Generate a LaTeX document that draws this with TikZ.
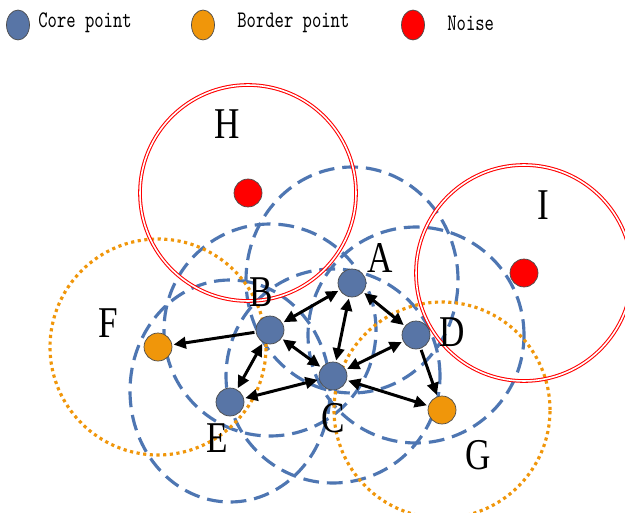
\documentclass[tikz,border=0pt]{standalone}
\usepackage{fontspec}
\newfontfamily\lblfont[FakeStretch=0.8]{Liberation Serif}
\newfontfamily\keyfont{lmmono10-regular.otf}[FakeStretch=0.75]
\usetikzlibrary{arrows.meta,shapes.geometric,backgrounds}
\definecolor{coreblue}{HTML}{5875A6}
\definecolor{epsblue}{HTML}{4E76B2}
\definecolor{bordorange}{HTML}{F0960A}
\definecolor{noisered}{HTML}{FF0000}

\begin{document}
\begin{tikzpicture}[x=0.02cm,y=0.02cm,
  core/.style={circle,draw=black!70,thin,fill=coreblue,minimum size=0.56cm,inner sep=0pt,outer sep=1pt},
  border/.style={core,fill=bordorange},
  noise/.style={core,fill=noisered},
  key/.style={ellipse,draw=black!70,thin,minimum width=0.46cm,minimum height=0.6cm,inner sep=0pt},
  keytxt/.style={anchor=west,inner sep=0pt,font=\fontsize{13.5}{15}\keyfont},
  lbl/.style={inner sep=0pt,font=\fontsize{25}{26}\lblfont},
  epscore/.style={draw=epsblue,line width=1.8pt,dash pattern=on 9pt off 4.5pt},
  epsborder/.style={draw=bordorange,line width=1.8pt,dash pattern=on 1.8pt off 2pt},
  epsnoise/.style={draw=noisered,line width=0.6pt,double=white,double distance=0.9pt},
  mutual/.style={{Triangle[length=7pt,width=6.5pt]}-{Triangle[length=7pt,width=6.5pt]},line width=1.7pt},
  oneway/.style={-{Triangle[length=7pt,width=6.5pt]},line width=1.7pt},
]
\useasboundingbox (0,0) rectangle (625,-513);

% legend
\node[key,fill=coreblue] (kcore) at (18,-25) {};
\node[keytxt] (tcore) at (38,-23) {Core point};
\node[key,fill=bordorange] (kbord) at (203,-25) {};
\node[keytxt] (tbord) at (237,-23) {Border point};
\node[key,fill=noisered] (knoise) at (413,-25) {};
\node[keytxt] (tnoise) at (447,-23) {Noise};

% points
\node[core] (A) at (352,-283) {};
\node[core] (B) at (270,-330) {};
\node[core] (C) at (333,-376) {};
\node[core] (D) at (416,-335) {};
\node[core] (E) at (230,-402) {};
\node[border] (F) at (158,-347) {};
\node[border] (G) at (442,-410) {};
\node[noise] (H) at (248,-193) {};
\node[noise] (I) at (524,-273) {};

% eps-neighbourhoods
\begin{scope}[on background layer]
\draw[epscore] ([yshift=0.06cm]A) ellipse[x radius=106,y radius=113];
\foreach \p/\r in {B/106,C/107,D/108}
  \draw[epscore] (\p) circle[radius=\r];
\draw[epscore] ([yshift=0.22cm]E) ellipse[x radius=100,y radius=111];
\foreach \p in {F,G}
  \draw[epsborder] (\p) circle[radius=108];
\foreach \p in {H,I}
  \draw[epsnoise] (\p) circle[radius=108];
\end{scope}

% density links
\draw[mutual] (A) -- (B);
\draw[mutual] (A) -- (D);
\draw[mutual] (A) -- (C);
\draw[mutual] (B) -- (C);
\draw[mutual] (B) -- (E);
\draw[mutual] (D) -- (C);
\draw[mutual] (C) -- (E);
\draw[mutual] (C) -- (G);
\draw[oneway] (B) -- (F);
\draw[oneway] (D) -- (G);

% labels
\node[lbl] (lA) at (380,-258) {A};
\node[lbl] (lB) at (261,-292) {B};
\node[lbl] (lC) at (333,-418) {C};
\node[lbl] (lD) at (452,-332) {D};
\node[lbl] (lE) at (217,-438) {E};
\node[lbl] (lF) at (108,-323) {F};
\node[lbl] (lG) at (478,-455) {G};
\node[lbl] (lH) at (227,-124) {H};
\node[lbl] (lI) at (543,-205) {I};
\end{tikzpicture}
\end{document}
